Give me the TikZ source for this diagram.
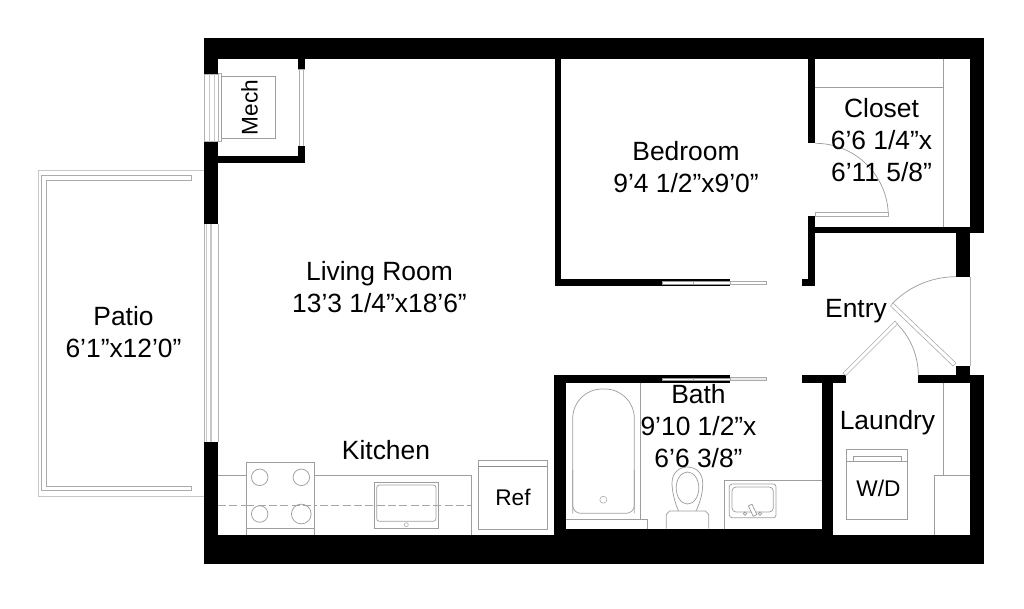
\documentclass[tikz,border=0pt]{standalone}
\usepackage{fontspec}
\setmainfont{Liberation Sans}
\tikzset{
  x=0.75pt,y=-0.75pt,
  wall/.style={fill=black,draw=none},
  fine/.style={draw=black!38,line width=0.55pt},
  thin line/.style={draw=black!33,line width=0.45pt},
  pale/.style={draw=black!22,line width=0.75pt},
  win/.style={draw=black!30,line width=0.75pt},
  dashline/.style={draw=black!35,line width=0.45pt,dash pattern=on 6pt off 2.5pt},
  lab/.style={align=center,font=\fontsize{19.8}{24}\selectfont,text=black,inner sep=0pt},
  smalllab/.style={font=\fontsize{17}{20}\selectfont,text=black,inner sep=0pt},
}
\begin{document}
\begin{tikzpicture}
\useasboundingbox (0,0) rectangle (1024,608);
% --- patio
\draw[pale] (204,170) -- (38.5,170) -- (38.5,496.3) -- (204,496.3);
\draw[thin line] (191.7,175.7) -- (41.7,175.7) -- (41.7,490.7) -- (191.7,490.7) -- (191.7,486.3) -- (46.3,486.3) -- (46.3,180.7) -- (191.7,180.7) -- cycle;
% --- outer walls
\fill[wall] (204,38) rectangle (984,59);
\fill[wall] (204,38) rectangle (218,74);
\fill[wall] (204,141.7) rectangle (218,224);
\fill[wall] (204,442) rectangle (218,564);
\fill[wall] (204,535) rectangle (984,564);
\fill[wall] (970,38) rectangle (984,233.3);
\fill[wall] (956,226.7) rectangle (970,276.7);
\fill[wall] (970,375.3) rectangle (984,564);
\fill[wall] (956,365.7) rectangle (970,382.7);
% --- mech walls
\fill[wall] (297.7,59) rectangle (305.3,69);
\fill[wall] (297.7,146) rectangle (305.3,162.7);
\fill[wall] (218,156) rectangle (305.3,162.7);
% --- bedroom walls
\fill[wall] (554.7,59) rectangle (561,286);
\fill[wall] (554.7,278.7) rectangle (730,286);
\fill[white,draw=black!40,line width=0.3pt] (662,281.6) rectangle (730,283.8);
\draw[thin line] (693,281.6) -- (693,283.8);
\draw[thin line,fill=white] (730,281) rectangle (766,284);
% --- closet and entry walls
\fill[wall] (808,59) rectangle (815.3,143.3);
\fill[wall] (808,216) rectangle (815.3,286);
\fill[wall] (802,278.7) rectangle (815.3,286);
\fill[wall] (808,226.7) rectangle (970,233.3);
% --- bath walls
\fill[wall] (554.3,375.3) rectangle (566,564);
\fill[wall] (554.3,375.3) rectangle (730,382.5);
\fill[white,draw=black!40,line width=0.3pt] (662,377.8) rectangle (730,380);
\draw[thin line] (693,377.8) -- (693,380);
\draw[thin line,fill=black!8] (730,377.5) rectangle (766,380.5);
\fill[wall] (554.3,528.5) rectangle (833,564);
\fill[wall] (821.7,375.3) rectangle (833,535);
\fill[wall] (802,375.3) rectangle (845.7,382.7);
\fill[wall] (918.3,375.3) rectangle (984,382.7);
% --- windows
\draw[win] (204,74) rectangle (218,141.7);
\draw[draw=black!22,line width=0.4pt] (214,74) -- (214,141.7) (209,74) -- (209,141.7);
\draw[thin line] (218,73.5) -- (221.5,73.5) -- (221.5,141.5) -- (218,141.5);
\draw[win] (204,224) -- (204,442) (218,224) -- (218,442);
\draw[draw=black!22,line width=0.4pt] (206.3,224) -- (206.3,442) (210,224) -- (210,442) (211.5,224) -- (211.5,442);
\draw[win] (303.6,69) -- (303.6,146);
\draw[thin line] (299.5,69) -- (299.5,146) (298,69) -- (305,69);
\draw[win] (970,276.7) -- (970,365.7);
% --- mech
\draw[fine] (221.7,76) rectangle (275,138.7);
\node[smalllab,rotate=90] (mech) at (249.5,107.5) {Mech};
% --- closet
\draw[fine] (815.3,87.3) -- (943.3,87.3);
\draw[fine] (943.3,59) -- (943.3,226.7);
\draw[fine] (815.3,143.3) arc[start angle=-90,end angle=0,radius=73];
\draw[thin line,fill=white] (815.3,212.3) rectangle (888,216);
% --- entry doors
\draw[fine] (956,276.7) arc[start angle=-90,delta angle=-46,radius=89];
\draw[thin line,fill=white] (890.5,306) -- (893,303) -- (956,363) -- (953,366) -- cycle;
\draw[fine] (918.3,375.3) arc[start angle=0,delta angle=-45,radius=73];
\draw[thin line,fill=white] (843,373) -- (895,321) -- (897.5,324) -- (846,375.5) -- cycle;
% --- kitchen
\draw[fine] (218,475.7) -- (471.3,475.7) -- (471.3,535);
\draw[dashline] (218,505.7) -- (471.3,505.7);
\draw[fine,fill=white] (246.3,535) -- (246.3,462.7) -- (314.7,462.7) -- (314.7,535);
\draw[dashline] (246.3,505.7) -- (314.7,505.7);
\draw[fine] (246.3,528.3) -- (314.7,528.3);
\draw[fine] (259.7,477.3) circle[radius=6.2pt];
\draw[fine] (301.3,477.3) circle[radius=6.2pt];
\draw[fine] (259.7,514) circle[radius=6.2pt];
\draw[fine] (301.3,514) circle[radius=7.4pt];
\draw[fine] (374.3,482.3) rectangle (438.7,528.7);
\draw[fine,rounded corners=2pt] (376.7,485) rectangle (436,521.3);
\draw[thin line] (406.3,524.7) circle[radius=1.5pt];
\draw[fine] (478.7,460) rectangle (547.3,529.3);
\draw[black!45,line width=0.5pt] (478.7,466.3) -- (547.3,466.3);
\node[smalllab] (ref) at (513,497.5) {Ref};
% --- bath
\draw[fine,rounded corners=22pt] (572.7,513.3) -- (572.7,389) -- (634.3,389) -- (634.3,513.3);
\draw[fine,rounded corners=6pt] (572.7,470) -- (572.7,513.3) -- (634.3,513.3) -- (634.3,470);
\draw[thin line] (603.3,499.7) circle[radius=2.6pt];
\draw[fine] (640.7,382.5) -- (640.7,519.7);
\draw[fine] (566,519.7) -- (647.3,519.7) -- (647.3,528.5);
\draw[fine] (724.3,528.5) -- (724.3,480) -- (821.7,480);
\draw[fine,rounded corners=2pt] (729.3,484) rectangle (776,517.7);
\draw[fine,rounded corners=3pt] (732,487) rectangle (773.3,512);
\draw[fine,fill=white] (745,513.7) circle[radius=1.3pt];
\draw[fine,fill=white] (760,513.7) circle[radius=1.3pt];
\draw[fine,fill=white,rotate around={25:(752.5,510)}] (750.5,504.5) rectangle (754.5,516);
\draw[fine,fill=white] (666.3,528.5) -- (666.3,514.5) -- (669.5,511) -- (705.5,511) -- (708.7,514.5) -- (708.7,528.5);
\draw[fine] (678.5,511) .. controls (672,496) and (672,484) .. (672,483) .. controls (672,472) and (680,467) .. (687.3,467) .. controls (695,467) and (702.7,472) .. (702.7,483) .. controls (702.7,490) and (702,498) .. (696,511);
\draw[fine] (687.5,488) ellipse[x radius=8.5pt,y radius=12pt];
% --- laundry
\draw[fine] (943.3,382.7) -- (943.3,475.3);
\draw[fine] (934.3,535) -- (934.3,475.3) -- (970,475.3);
\draw[fine] (846.7,449.3) rectangle (907.7,519.3);
\draw[fine] (846.7,461.7) -- (907.7,461.7);
\draw[fine] (853.3,461.7) -- (853.3,456.3) -- (901.7,456.3) -- (901.7,461.7);
\node[smalllab] (wd) at (878.5,488) {W/D};
% --- labels
\node[lab] (patio) at (123.5,332) {Patio\\6’1”x12’0”};
\node[lab] (living) at (379.5,287) {Living Room\\13’3 1/4”x18’6”};
\node[lab] (kitchen) at (386,450) {Kitchen};
\node[lab] (bedroom) at (686,167) {Bedroom\\9’4 1/2”x9’0”};
\node[lab] (closet) at (881.5,140) {Closet\\6’6 1/4”x\\6’11 5/8”};
\node[lab] (entry) at (856,311) {Entry};
\node[lab] (bath) at (698.5,426) {Bath\\9’10 1/2”x\\6’6 3/8”};
\node[lab] (laundry) at (887.5,423) {Laundry};
\end{tikzpicture}
\end{document}
